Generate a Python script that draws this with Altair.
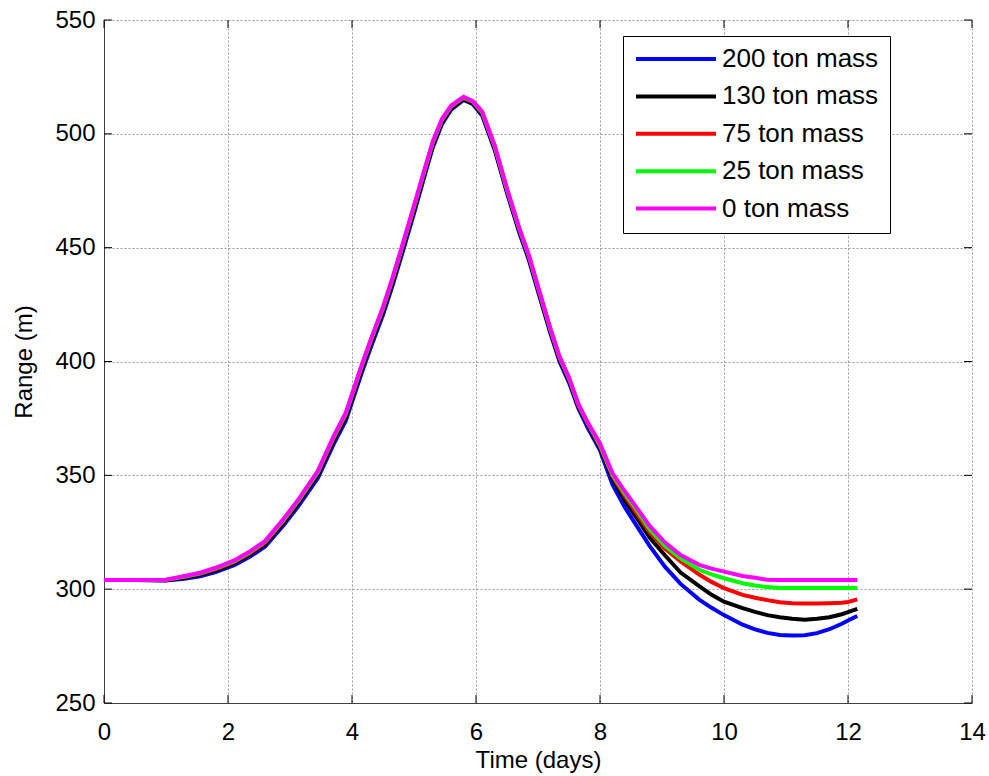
import altair as alt
import pandas as pd

# ---- data ----
time_days = [0, 0.5, 1.0, 1.3, 1.55, 1.8, 2.1, 2.35, 2.6, 2.9,
             3.15, 3.45, 3.7, 3.9, 4.15, 4.3, 4.5, 4.65, 4.8, 5.0,
             5.15, 5.3, 5.45, 5.6, 5.8, 5.95, 6.1, 6.3, 6.5, 6.7,
             6.85, 7.0, 7.2, 7.35, 7.5, 7.65, 7.8, 8.0, 8.2, 8.4,
             8.6, 8.8, 9.05, 9.3, 9.6, 9.8, 10.0, 10.3, 10.5, 10.7,
             10.9, 11.1, 11.3, 11.5, 11.7, 11.9, 12.0, 12.15]

range_200 = [304, 304, 303.8, 304.6, 305.7, 307.5, 310.5, 314.2, 318.7, 328.2,
             337, 348.8, 363.5, 374, 394.5, 406, 420.5, 433, 446.5, 465,
             479.5, 493.8, 504.2, 510.6, 514.9, 513, 508, 493, 474, 456.4,
             444.8, 430.8, 412.3, 399.8, 390.7, 379.5, 371, 361, 346, 336,
             327.5, 319, 309.8, 302.3, 295.4, 291.8, 288.6, 284.4, 282.3, 280.8,
             279.9, 279.7, 279.8, 280.7, 282.4, 284.8, 286.2, 288.2]

range_130 = [304, 304, 303.9, 305, 306.3, 308.2, 311.3, 315.1, 319.7, 329.3,
             338.3, 350.2, 365, 375.5, 396, 407.5, 422, 434.5, 448, 466.5,
             480.8, 494.8, 505, 511.2, 515.2, 513.3, 508.5, 493.7, 474.7, 457.2,
             445.7, 431.7, 413.2, 400.7, 391.7, 380.4, 372.3, 362, 348.5, 339,
             331, 322.7, 314.8, 307.3, 301.3, 297.5, 294.5, 291.7, 290, 288.6,
             287.7, 287, 286.6, 287, 287.7, 289, 289.9, 291.3]

range_75 = [304, 304, 304, 305.4, 306.8, 308.8, 312, 315.8, 320.5, 330.2,
            339.2, 351.2, 366.1, 376.6, 397.1, 408.6, 423.1, 435.6, 449.1, 467.6,
            481.8, 495.7, 505.9, 512, 515.8, 514, 509.2, 494.4, 475.4, 457.9,
            446.4, 432.4, 413.9, 401.4, 392.4, 380.9, 373, 362.8, 349.8, 341,
            333, 325, 317.7, 312.2, 306.4, 303.2, 300.4, 297.5, 296.2, 295.2,
            294.3, 293.8, 293.7, 293.7, 293.8, 294, 294.4, 295.5]

range_25 = [304, 304, 304.1, 305.6, 307, 309.1, 312.3, 316.2, 320.9, 330.6,
            339.6, 351.6, 366.6, 377.1, 397.6, 409.1, 423.6, 436.1, 449.6, 468.1,
            482.2, 496.1, 506.2, 512.3, 516.1, 514.2, 509.5, 494.7, 475.7, 458.2,
            446.7, 432.7, 414.2, 401.7, 392.7, 381.2, 373.2, 363.3, 350.3, 342,
            334.5, 326.3, 319, 313.5, 308.5, 306.5, 304.8, 302.6, 301.6, 300.9,
            300.5, 300.5, 300.5, 300.5, 300.5, 300.5, 300.5, 300.5]

range_0 = [304, 304, 304.1, 305.8, 307.2, 309.4, 312.6, 316.5, 321.2, 331,
           340, 352, 367, 377.5, 398, 409.5, 424, 436.5, 450, 468.5,
           482.6, 496.5, 506.5, 512.5, 516.3, 514.4, 509.8, 495, 476, 458.5,
           447, 433, 414.5, 402, 393, 381.5, 373.3, 364, 351, 343,
           335.5, 327.8, 320.5, 315, 310.7, 309, 307.7, 305.8, 305, 304.1,
           304, 304, 304, 304, 304, 304, 304, 304]

series_labels = ["200 ton mass", "130 ton mass", "75 ton mass", "25 ton mass", "0 ton mass"]
series_colors = ["#0000ff", "#000000", "#ff0000", "#00ff00", "#ff00ff"]
series_values = [range_200, range_130, range_75, range_25, range_0]

x_ticks = [0, 2, 4, 6, 8, 10, 12, 14]
y_ticks = [250, 300, 350, 400, 450, 500, 550]

rows = []
for lab, vals in zip(series_labels, series_values):
    for t, v in zip(time_days, vals):
        rows.append({"t": t, "v": v, "series": lab})
df = pd.DataFrame(rows)

W, H = 868, 683
FONT = "Liberation Sans"

x_enc = alt.X("t:Q", scale=alt.Scale(domain=[0, 14], nice=False),
              axis=alt.Axis(values=x_ticks, title="Time (days)", ticks=False,
                            labelFlush=False, labelOverlap=False,
                            labelPadding=17, titlePadding=4, format="d"))
y_enc = alt.Y("v:Q", scale=alt.Scale(domain=[250, 550], nice=False),
              axis=alt.Axis(values=y_ticks, title="Range (m)", ticks=False,
                            labelFlush=False, labelOverlap=False,
                            labelPadding=9, titlePadding=18, format="d"))
color_enc = alt.Color("series:N",
                      scale=alt.Scale(domain=series_labels, range=series_colors),
                      legend=alt.Legend(title=None, orient="none", legendX=519, legendY=16,
                                        symbolType="stroke", symbolSize=6400,
                                        symbolStrokeWidth=4, clipHeight=24,
                                        rowPadding=11.4, padding=11, labelOffset=4,
                                        labelFontSize=26, labelFont=FONT, labelColor="black",
                                        strokeColor="black", fillColor="white",
                                        labelLimit=400))

layers = []
for lab in series_labels:
    layers.append(
        alt.Chart(df).transform_filter(alt.datum.series == lab)
        .mark_line(strokeWidth=4, clip=True)
        .encode(x=x_enc, y=y_enc, color=color_enc)
    )

xt = pd.DataFrame({"t": x_ticks})
yt = pd.DataFrame({"v": y_ticks})
tick_len = 8
bottom_ticks = alt.Chart(xt).mark_rule(color="black", strokeWidth=1).encode(
    x="t:Q", y=alt.value(H), y2=alt.value(H - tick_len))
top_ticks = alt.Chart(xt).mark_rule(color="black", strokeWidth=1).encode(
    x="t:Q", y=alt.value(0), y2=alt.value(tick_len))
left_ticks = alt.Chart(yt).mark_rule(color="black", strokeWidth=1).encode(
    y="v:Q", x=alt.value(0), x2=alt.value(tick_len))
right_ticks = alt.Chart(yt).mark_rule(color="black", strokeWidth=1).encode(
    y="v:Q", x=alt.value(W), x2=alt.value(W - tick_len))

chart = alt.layer(*layers, bottom_ticks, top_ticks, left_ticks, right_ticks).properties(
    width=W, height=H,
    autosize=alt.AutoSizeParams(type="none"),
    padding={"left": 104, "top": 20, "right": 17, "bottom": 73},
    background="white",
).configure_view(strokeWidth=0).configure_axis(
    labelFont=FONT, titleFont=FONT, labelFontSize=24, titleFontSize=24,
    titleFontWeight="normal", labelColor="black", titleColor="black",
    domainColor="#404040", domainWidth=1,
    gridColor="#9a9a9a", gridDash=[2, 2], gridWidth=1, gridOpacity=1,
).configure_legend(labelFont=FONT)

chart.save("out.html", embed_options={"renderer": "svg", "actions": False})
